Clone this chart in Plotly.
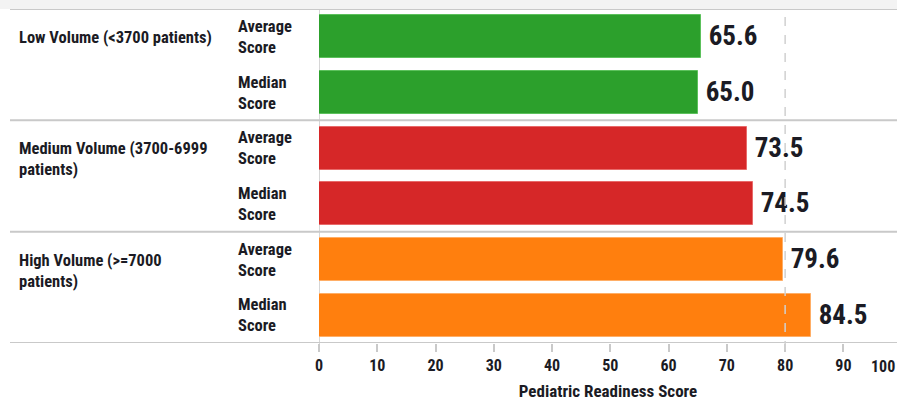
import plotly.graph_objects as go

groups = ["Low Volume (<3700 patients)", "Medium Volume (3700-6999<br>patients)", "High Volume (>=7000<br>patients)"]
measures = ["Average<br>Score", "Median<br>Score"]
values = [65.6, 65.0, 73.5, 74.5, 79.6, 84.5]
value_labels = ["65.6", "65.0", "73.5", "74.5", "79.6", "84.5"]
group_colors = ["#2ca02c", "#d62728", "#ff7f0e"]
edge_colors = ["#5cc15c", "#e86a6a", "#ffae66"]
tick_values = [0, 10, 20, 30, 40, 50, 60, 70, 80, 90]
x_title = "Pediatric Readiness Score"
ref_line = 80

FONT = "Liberation Sans Narrow, Arial Narrow, Roboto Condensed, Liberation Sans, sans-serif"
TXT = "#1b1b24"

W, H = 897, 401
ml, mr, mt, mb = 319, 0, 9, 58
pw = W - ml - mr
ph = H - mt - mb

rows = list(range(len(values)))
colors = [group_colors[i // 2] for i in rows]
edges = [edge_colors[i // 2] for i in rows]

fig = go.Figure()
fig.add_trace(go.Bar(
    x=values, y=rows, orientation="h",
    marker=dict(color=colors, line=dict(color=edges, width=1)),
    width=0.77,
    text=[f"<b>\u2009{t}</b>" for t in value_labels], textposition="outside",
    textfont=dict(family=FONT, size=27, color=TXT),
    cliponaxis=False, hoverinfo="skip",
))

def px2paper_x(px):
    return (px - ml) / pw

shapes = []
shapes.append(dict(type="rect", xref="paper", yref="paper", x0=px2paper_x(0), x1=px2paper_x(W),
                   y0=1, y1=1 + mt / ph, fillcolor="#f3f3f3", line=dict(width=0), layer="below"))
for yv in [-0.5, 1.5, 3.5, 5.5]:
    shapes.append(dict(type="line", xref="paper", yref="y", x0=px2paper_x(10), x1=px2paper_x(W),
                       y0=yv, y1=yv, line=dict(color="#c9c9c9", width=2), layer="below"))
shapes.append(dict(type="line", xref="x", yref="paper", x0=0, x1=0, y0=-7 / ph, y1=1,
                   line=dict(color="#c9c9c9", width=1.5), layer="below"))
shapes.append(dict(type="line", xref="x", yref="paper", x0=ref_line, x1=ref_line, y0=-7 / ph, y1=1,
                   line=dict(color="#d0d0d0", width=1.5, dash="dash"), layer="above"))

annotations = []
for g, name in enumerate(groups):
    annotations.append(dict(x=px2paper_x(17), xref="paper", y=2 * g - 0.5, yref="y",
                            text=f"<b>{name}</b>", showarrow=False, xanchor="left", yanchor="top",
                            align="left", yshift=-17,
                            font=dict(family=FONT, size=16.5, color=TXT)))
for r in rows:
    annotations.append(dict(x=px2paper_x(236), xref="paper", y=r, yref="y",
                            text=f"<b>{measures[r % 2]}</b>", showarrow=False, xanchor="left",
                            yanchor="middle", align="left",
                            font=dict(family=FONT, size=16.5, color=TXT)))
annotations.append(dict(x=1, xref="paper", y=0, yref="paper", text="<b>100</b>", showarrow=False,
                        xanchor="right", yanchor="top", yshift=-12,
                        font=dict(family=FONT, size=16, color=TXT)))

fig.update_layout(
    width=W, height=H,
    margin=dict(l=ml, r=mr, t=mt, b=mb),
    paper_bgcolor="white", plot_bgcolor="white",
    showlegend=False, bargap=0,
    shapes=shapes, annotations=annotations,
    xaxis=dict(range=[0, 99.2], tickvals=tick_values, ticktext=[f"<b>{v}</b>" for v in tick_values],
               ticks="outside", ticklen=8, tickcolor="#c9c9c9", tickwidth=1.5,
               showgrid=False, zeroline=False, showline=False,
               tickfont=dict(family=FONT, size=16, color=TXT),
               title=dict(text=f"<b>{x_title}</b>", font=dict(family=FONT, size=17, color=TXT), standoff=10)),
    yaxis=dict(range=[5.5, -0.5], showticklabels=False, showgrid=False, zeroline=False, showline=False),
)

fig.write_html("out.html")
